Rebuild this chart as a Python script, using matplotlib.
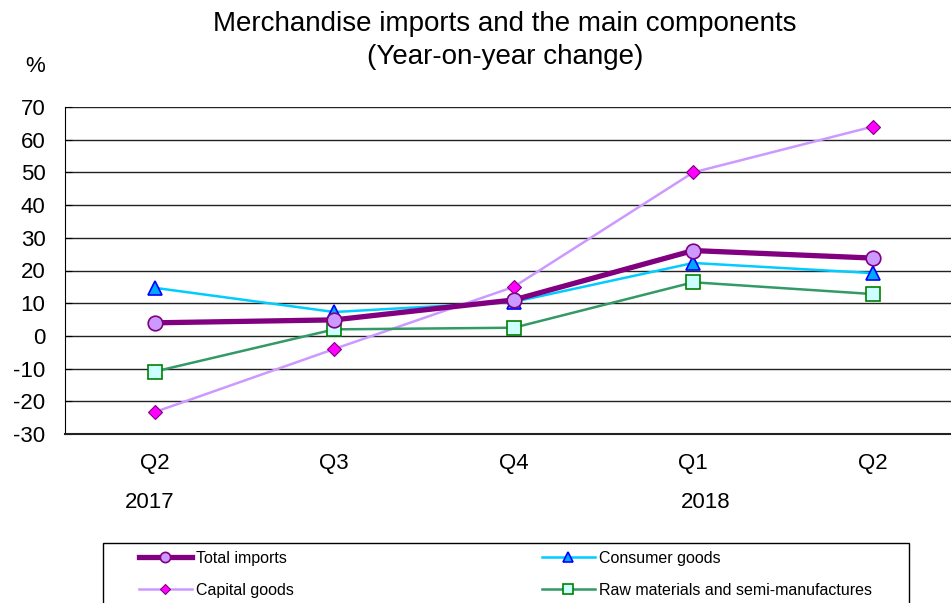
import matplotlib
matplotlib.use("Agg")
import matplotlib.pyplot as plt
from matplotlib.patches import Rectangle
from matplotlib.transforms import blended_transform_factory

plt.rcParams['font.family'] = ['Liberation Sans', 'DejaVu Sans']

quarters = ["Q2", "Q3", "Q4", "Q1", "Q2"]
years = ["2017", "2018"]
year_pos = [-0.03, 3.07]
total_imports = [4.0, 4.9, 11.0, 26.1, 23.8]
consumer_goods = [14.7, 7.3, 10.4, 22.3, 19.2]
capital_goods = [-23.3, -4.0, 15.0, 50.0, 64.0]
raw_materials = [-10.9, 2.0, 2.5, 16.4, 12.8]
yticks = list(range(-30, 71, 10))

W, H = 951, 603
fig = plt.figure(figsize=(W / 100, H / 100), dpi=100)
ax = fig.add_axes([65 / W, 169 / H, 897.5 / W, 327 / H])
x = list(range(len(quarters)))

ax.set_xlim(-0.5, 4.5)
ax.set_ylim(-30, 70)
ax.set_yticks(yticks)
ax.set_yticklabels([str(v) for v in yticks])
for y in yticks:
    ax.axhline(y, color='#222222', lw=1.0, zorder=1)

ax.plot(x, total_imports, color='#800080', lw=3.8, marker='o', ms=10.5,
        mfc='#CC99FF', mec='#800080', mew=1.2, label='Total imports', zorder=5)
ax.plot(x, consumer_goods, color='#00CCFF', lw=1.8, marker='^', ms=10.5,
        mfc='#00A8FF', mec='#0000FF', mew=1.2, label='Consumer goods', zorder=4)
ax.plot(x, capital_goods, color='#CC99FF', lw=1.8, marker='D', ms=7.5,
        mfc='#FF00FF', mec='#800080', mew=0.8, label='Capital goods', zorder=3)
ax.plot(x, raw_materials, color='#339966', lw=1.8, marker='s', ms=10.5,
        mfc='#CCFFFF', mec='#008000', mew=1.2,
        label='Raw materials and semi-manufactures', zorder=3)

ax.set_xticks(x)
ax.set_xticklabels(quarters)
ax.tick_params(axis='x', length=0, pad=14, labelsize=16)
ax.tick_params(axis='y', direction='in', length=5, pad=14, labelsize=16)
for s in ['top', 'right']:
    ax.spines[s].set_visible(False)
ax.spines['left'].set_color('black')
ax.spines['bottom'].set_color('#222222')
ax.spines['bottom'].set_linewidth(1.5)

tr = blended_transform_factory(ax.transData, fig.transFigure)
for yr, xp in zip(years, year_pos):
    ax.text(xp, 1 - 502 / H, yr, transform=tr, ha='center', va='center', fontsize=16)

fig.text(35 / W, 1 - 66 / H, '%', ha='center', va='center', fontsize=16)
fig.text(505 / W, 1 - 40.5 / H,
         'Merchandise imports and the main components\n(Year-on-year change)',
         ha='center', va='center', fontsize=20, linespacing=1.35)

fig.patches.append(Rectangle((103 / W, -0.05), 806 / W, 0.05 + (H - 543) / H,
                             transform=fig.transFigure, fill=False,
                             edgecolor='black', lw=1.0))
h, l = ax.get_legend_handles_labels()
order = [0, 2, 1, 3]
leg = fig.legend([h[i] for i in order], [l[i] for i in order], ncol=2,
                 loc='upper left', bbox_to_anchor=(139 / W, 1 - 551 / H),
                 frameon=False, fontsize=11.5, handlelength=3.3, handletextpad=0.3,
                 columnspacing=15.5, labelspacing=1.05, borderpad=0,
                 borderaxespad=0, markerscale=0.7)

fig.savefig('out.png', dpi=100)
